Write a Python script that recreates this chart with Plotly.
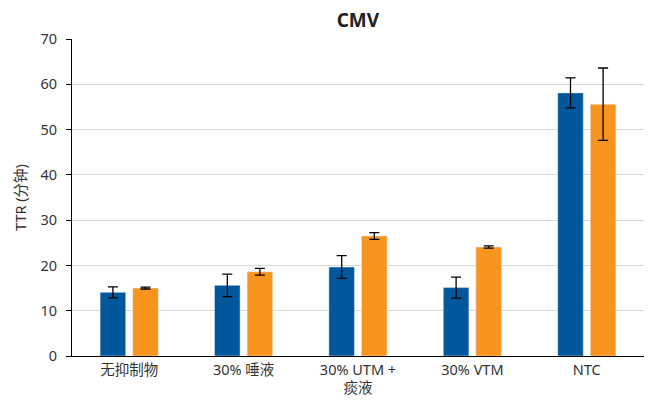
import plotly.graph_objects as go

categories = ["无抑制物", "30% 唾液", "30% UTM +<br>痰液", "30% VTM", "NTC"]
blue_vals = [14.05, 15.6, 19.65, 15.1, 58.1]
blue_err = [1.2, 2.5, 2.5, 2.3, 3.3]
orange_vals = [15.0, 18.6, 26.5, 24.05, 55.6]
orange_err = [0.2, 0.75, 0.75, 0.25, 8.0]
y_ticks = [0, 10, 20, 30, 40, 50, 60, 70]

font_family = "Noto Sans, Noto Sans CJK SC, sans-serif"

fig = go.Figure()
fig.add_trace(go.Bar(x=categories, y=blue_vals, marker_color="#01579b",
                     error_y=dict(type="data", array=blue_err, color="black",
                                  thickness=1.3, width=5),
                     showlegend=False))
fig.add_trace(go.Bar(x=categories, y=orange_vals, marker_color="#f7941e",
                     error_y=dict(type="data", array=orange_err, color="black",
                                  thickness=1.3, width=5),
                     showlegend=False))

# page body has an 8px margin, so the plot box is shifted by that much
fig.update_layout(
    width=654, height=410,
    margin=dict(l=64, r=18, t=31, b=62),
    paper_bgcolor="white", plot_bgcolor="white",
    font=dict(family=font_family, size=14.5, color="#333333"),
    title=dict(text="<b>CMV</b>", x=0.535, xanchor="center", y=0.971, yanchor="middle",
               font=dict(size=19, color="#222222")),
    barmode="group", bargap=0.43, bargroupgap=0.215,
    xaxis=dict(showline=True, linecolor="black", linewidth=1.2, automargin=False,
               tickfont=dict(size=14.5, color="#333333"), ticks=""),
    yaxis=dict(range=[0, 70], tickvals=y_ticks, showline=True, linecolor="black",
               linewidth=1.2, ticks="outside", ticklen=5, tickcolor="black",
               ticklabelstandoff=6,
               gridcolor="#d9d9d9", gridwidth=1, zeroline=False, automargin=False,
               title=dict(text="TTR (分钟)", font=dict(size=14.5, color="#333333"), standoff=10),
               tickfont=dict(size=14.5, color="#333333")),
)

fig.write_html("out.html")
